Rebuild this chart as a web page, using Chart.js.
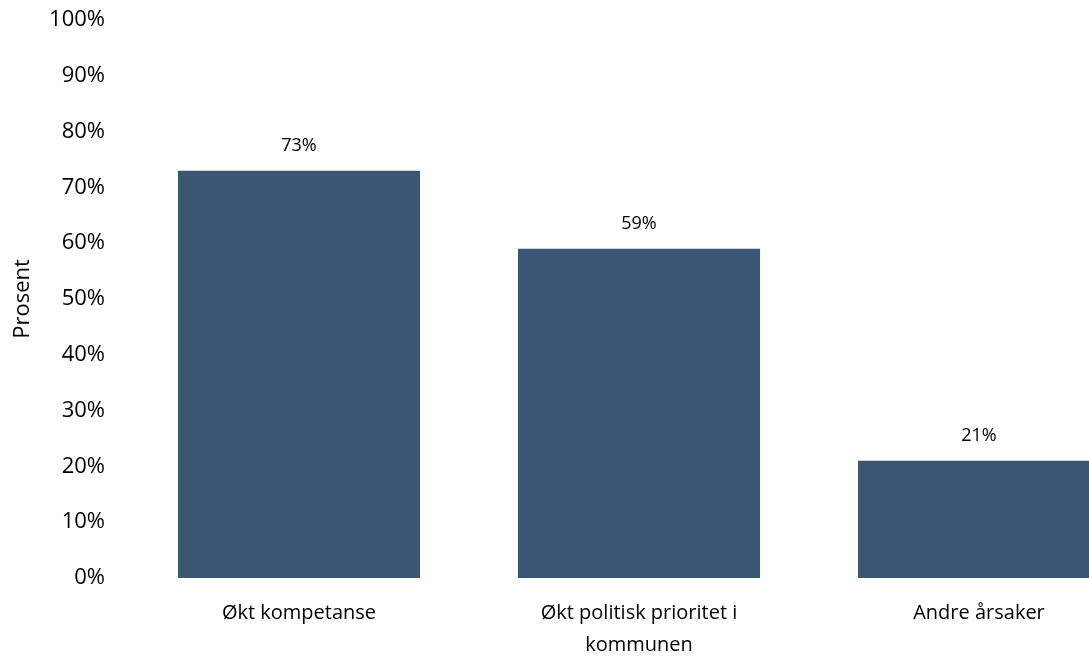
<!DOCTYPE html>
<html>
<head>
<meta charset="utf-8">
<script src="https://cdn.jsdelivr.net/npm/chart.js@4"></script>
<style>
    html, body { margin: 0; padding: 0; background: #fff; overflow: hidden; }
    #wrap { position: relative; width: 1149px; height: 657px; }
</style>
</head>
<body>
<div id="wrap"><canvas id="chart"></canvas></div>
<script>
const categories = [
    'Økt kompetanse',
    ['Økt politisk prioritet i', 'kommunen'],
    'Andre årsaker'
];
const values = [73, 59, 21];
const yTicks = [0, 10, 20, 30, 40, 50, 60, 70, 80, 90, 100];

const barColor = '#3b5672';
const fontFamily = '"Open Sans", sans-serif';

// writes the percentage above each bar
const valueLabels = {
    id: 'valueLabels',
    afterDatasetsDraw(chart) {
        const ctx = chart.ctx;
        const meta = chart.getDatasetMeta(0);
        ctx.save();
        ctx.font = '18px ' + fontFamily;
        ctx.fillStyle = '#000';
        ctx.textAlign = 'center';
        ctx.textBaseline = 'middle';
        meta.data.forEach((bar, i) => {
            ctx.fillText(values[i] + '%', bar.x, bar.y - 25);
        });
        ctx.restore();
    }
};

new Chart(document.getElementById('chart'), {
    type: 'bar',
    data: {
        labels: categories,
        datasets: [{
            data: values,
            backgroundColor: barColor,
            barPercentage: 0.712,
            categoryPercentage: 1
        }]
    },
    options: {
        responsive: true,
        maintainAspectRatio: false,
        animation: false,
        layout: { padding: { top: 20, right: 0, bottom: 0, left: 0 } },
        plugins: {
            legend: { display: false },
            tooltip: { enabled: false }
        },
        scales: {
            x: {
                grid: { display: false, drawTicks: false },
                border: { display: false },
                ticks: {
                    color: '#000',
                    padding: 19,
                    maxRotation: 0,
                    font: { family: fontFamily, size: 20, lineHeight: 1.6 }
                },
                afterFit(scale) { scale.height = 79; }
            },
            y: {
                min: 0,
                max: 100,
                afterBuildTicks(scale) {
                    scale.ticks = yTicks.map(v => ({ value: v }));
                },
                grid: { display: false, drawTicks: false },
                border: { display: false },
                ticks: {
                    color: '#000',
                    padding: 24,
                    font: { family: fontFamily, size: 22 },
                    callback: v => v + '%'
                },
                title: {
                    display: true,
                    text: 'Prosent',
                    color: '#000',
                    padding: { top: 10, bottom: 0 },
                    font: { family: fontFamily, size: 22 }
                },
                afterFit(scale) {
                    scale.width = 129;
                    scale.paddingTop = 0;
                    scale.paddingBottom = 0;
                }
            }
        }
    },
    plugins: [valueLabels]
});
</script>
</body>
</html>
